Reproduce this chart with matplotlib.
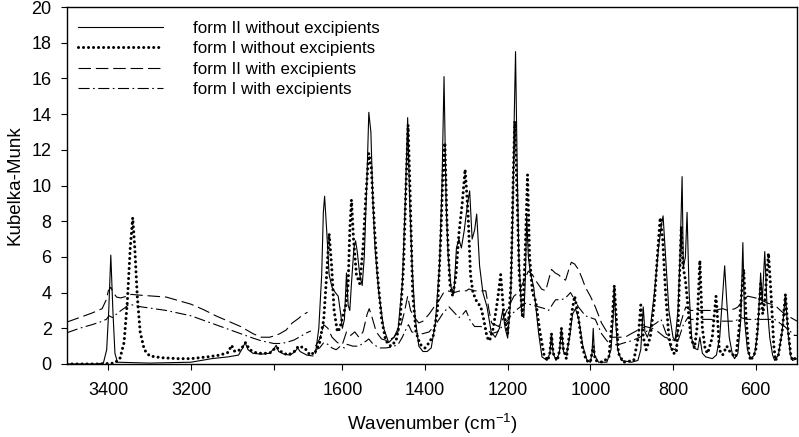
import numpy as np
import matplotlib
matplotlib.use("Agg")
import matplotlib.pyplot as plt

plt.rcParams.update({
    'font.family': ['Liberation Sans', 'DejaVu Sans'],
    'mathtext.default': 'regular',
    'lines.scale_dashes': False,
})

# wavenumber (cm-1) / Kubelka-Munk values
wn_f2 = [3500, 3430, 3412, 3404, 3399, 3394, 3389, 3384, 3378, 3300, 3200, 3150, 3110, 3085, 3075, 3069,
         3062, 3050, 3030, 3010, 2998, 2994, 2988, 2975, 2960, 2948, 2942, 2936, 2920, 2905,
         1665, 1657, 1650, 1646, 1643, 1638, 1632, 1625, 1617, 1610, 1604, 1600, 1595, 1590, 1586, 1582,
         1578, 1572, 1568, 1564, 1558, 1552, 1547, 1541, 1536, 1531, 1526, 1521, 1512, 1500, 1488, 1475,
         1465, 1455, 1448, 1442, 1437, 1431, 1424, 1415, 1405, 1395, 1385, 1375, 1365, 1359, 1354, 1349,
         1344, 1337, 1330, 1324, 1318, 1312, 1305, 1297, 1292, 1286, 1280, 1275, 1268, 1260, 1250, 1240,
         1230, 1220, 1212, 1206, 1200, 1193, 1188, 1184, 1181, 1177, 1173, 1166, 1161, 1157, 1154, 1150,
         1145, 1137, 1125, 1117, 1105, 1098, 1094, 1090, 1083, 1075, 1070, 1065, 1058, 1050, 1043, 1036,
         1028, 1018, 1008, 1000, 996, 993, 990, 980, 960, 950, 945, 942, 939, 934, 925, 900, 885, 878,
         872, 868, 862, 855, 845, 835, 828, 824, 818, 810, 800, 795, 788, 783, 778, 775, 770, 766, 761,
         755, 750, 740, 735, 729, 721, 705, 695, 687, 681, 675, 670, 664, 656, 651, 643, 636, 631, 627,
         620, 612, 603, 595, 588, 584, 578, 573, 566, 559, 554, 545, 536, 528, 522, 516, 511, 500]
km_f2 = [0, 0, 0.05, 0.8, 3.0, 6.1, 3.0, 0.6, 0.1, 0.05, 0.1, 0.3, 0.4, 0.5, 0.9, 1.2,
         0.8, 0.6, 0.55, 0.6, 0.9, 1.05, 0.7, 0.55, 0.5, 0.7, 0.9, 0.7, 0.5, 0.45,
         0.6, 2.0, 5.0, 8.5, 9.4, 7.5, 5.0, 4.3, 4.0, 3.8, 2.8, 2.0, 2.5, 5.1, 3.3, 3.0,
         4.5, 6.5, 6.9, 6.3, 5.0, 4.4, 6.0, 10.0, 14.1, 13.0, 9.0, 6.5, 4.0, 2.0, 1.2, 1.5,
         2.0, 4.5, 9.0, 13.8, 9.0, 5.4, 2.6, 1.0, 0.7, 0.7, 0.9, 2.3, 5.5, 10.0, 16.1, 9.0,
         6.0, 4.3, 4.0, 6.5, 7.0, 6.5, 7.5, 9.0, 9.7, 7.0, 7.5, 8.4, 5.5, 4.0, 3.2, 1.8,
         1.5, 2.0, 3.0, 2.0, 1.45, 3.5, 8.0, 14.0, 17.5, 11.0, 6.0, 2.8, 2.6, 5.0, 8.3, 6.0,
         5.1, 4.3, 1.7, 0.4, 0.2, 0.6, 1.7, 0.6, 0.2, 0.6, 2.0, 0.7, 0.5, 1.5, 2.8, 3.1,
         2.5, 1.0, 0.2, 0.1, 0.6, 2.0, 0.5, 0.1, 0.1, 0.8, 2.5, 4.4, 2.5, 0.8, 0.2, 0.1, 0.2, 0.8,
         3.2, 1.8, 1.5, 2.0, 4.0, 6.5, 7.8, 8.3, 6.0, 3.0, 1.5, 1.3, 3.0, 6.0, 10.5, 5.4, 6.0, 8.5, 4.0,
         1.5, 0.9, 0.8, 1.5, 0.6, 0.4, 0.3, 0.5, 1.5, 3.5, 5.5, 3.5, 1.5, 0.5, 0.3, 0.6, 2.5, 6.8, 2.5,
         0.8, 0.3, 0.5, 1.8, 5.1, 3.5, 6.3, 3.5, 1.5, 0.5, 0.2, 0.5, 1.8, 3.9, 1.8, 0.5, 0.2, 0.3]

wn_f1 = [3500, 3420, 3385, 3372, 3362, 3354, 3347, 3341, 3336, 3330, 3323, 3313, 3300, 3270, 3230, 3200,
         3160, 3130, 3110, 3102, 3094, 3080, 3068, 3058, 3040, 3010, 2993, 2980, 2965, 2950, 2940, 2925,
         2912, 2905,
         1665, 1655, 1645, 1638, 1632, 1626, 1620, 1612, 1606, 1598, 1592, 1586, 1582, 1578, 1573, 1566,
         1558, 1550, 1543, 1536, 1530, 1522, 1515, 1505, 1495, 1483, 1470, 1460, 1452, 1446, 1441, 1436,
         1430, 1422, 1412, 1400, 1390, 1380, 1370, 1362, 1357, 1352, 1347, 1340, 1333, 1325, 1318, 1310,
         1303, 1296, 1290, 1284, 1275, 1265, 1258, 1250, 1244, 1235, 1225, 1217, 1210, 1200, 1192, 1187,
         1183, 1178, 1172, 1164, 1158, 1152, 1147, 1140, 1132, 1122, 1112, 1103, 1098, 1094, 1090, 1080,
         1074, 1070, 1065, 1058, 1050, 1044, 1038, 1030, 1020, 1010, 1000, 993, 988, 970, 955, 947, 942,
         937, 932, 920, 895, 884, 878, 872, 865, 855, 845, 838, 831, 825, 818, 810, 800, 792, 788, 784,
         780, 776, 770, 765, 757, 748, 742, 735, 729, 722, 716, 705, 699, 696, 692, 688, 680, 670, 660,
         648, 640, 634, 629, 623, 616, 612, 600, 592, 588, 583, 578, 569, 563, 556, 552, 545, 535, 528,
         522, 515, 511, 500]
km_f1 = [0, 0, 0.05, 0.3, 1.2, 3.5, 6.5, 8.2, 6.5, 3.8, 1.8, 0.8, 0.45, 0.35, 0.3, 0.3,
         0.4, 0.5, 0.65, 1.05, 0.7, 0.8, 1.2, 0.8, 0.6, 0.6, 0.95, 0.65, 0.5, 0.7, 1.0, 0.9,
         0.5, 0.6,
         0.7, 1.2, 2.5, 5.0, 7.3, 5.5, 3.0, 1.8, 2.0, 2.8, 3.2, 4.5, 7.5, 9.2, 7.0, 5.0,
         4.5, 6.5, 9.5, 11.8, 11.0, 7.5, 5.0, 2.5, 1.3, 1.0, 1.3, 2.5, 5.5, 10.0, 13.4, 9.5,
         4.0, 1.8, 1.1, 0.9, 1.2, 1.6, 3.0, 7.0, 10.5, 12.4, 8.0, 4.5, 3.8, 5.0, 7.3, 9.0,
         10.9, 8.5, 5.0, 4.0, 3.5, 3.2, 2.5, 1.5, 1.3, 2.0, 3.5, 5.0, 3.0, 1.7, 4.5, 10.0,
         13.6, 10.0, 5.0, 2.6, 6.0, 10.6, 6.0, 4.0, 3.5, 1.8, 0.5, 0.2, 0.6, 1.7, 0.6, 0.2,
         0.8, 2.0, 0.8, 0.3, 1.8, 3.0, 3.8, 2.8, 1.0, 0.2, 0.1, 1.0, 0.2, 0.1, 0.4, 2.5, 4.4,
         2.5, 0.6, 0.1, 0.2, 1.5, 3.3, 1.5, 0.8, 1.5, 3.5, 6.0, 8.2, 7.0, 4.0, 1.5, 0.6, 0.6, 2.0, 5.0,
         7.7, 5.5, 4.7, 3.5, 1.5, 0.9, 2.0, 5.8, 2.0, 0.8, 0.6, 1.5, 3.0, 3.8, 2.5, 0.8, 0.5, 1.0, 0.6,
         0.4, 2.0, 4.0, 5.3, 2.5, 0.5, 0.2, 0.7, 3.0, 4.5, 2.8, 3.5, 6.2, 4.0, 1.0, 0.2, 0.5, 2.0, 3.9,
         2.0, 0.5, 0.2, 0.4]

wn_f2_exc = [3500, 3470, 3440, 3415, 3405, 3400, 3394, 3388, 3380, 3370, 3355, 3345, 3320, 3290, 3260,
             3230, 3200, 3170, 3140, 3110, 3080, 3050, 3030, 3010, 2995, 2985, 2970, 2955, 2940, 2930, 2918,
             1665, 1655, 1645, 1635, 1625, 1612, 1600, 1590, 1580, 1570, 1560, 1550, 1540, 1535, 1528,
             1518, 1505, 1490, 1475, 1460, 1450, 1442, 1435, 1425, 1415, 1405, 1390, 1375, 1365, 1355,
             1345, 1330, 1315, 1300, 1294, 1280, 1265, 1253, 1245, 1239, 1230, 1222, 1210, 1198, 1185,
             1174, 1162, 1150, 1140, 1130, 1118, 1108, 1100, 1094, 1085, 1077, 1068, 1060, 1052, 1046,
             1038, 1029, 1020, 1012, 1000, 988, 973, 960, 949, 935, 916, 901, 885, 867, 850, 836, 820,
             805, 795, 785, 775, 769, 757, 740, 720, 700, 680, 667, 650, 643, 630, 619, 600, 588, 570,
             554, 540, 530, 515, 500]
km_f2_exc = [2.35, 2.6, 2.85, 3.1, 3.6, 4.1, 4.3, 4.0, 3.75, 3.7, 3.8, 3.9, 3.85, 3.8, 3.75,
             3.55, 3.35, 3.05, 2.7, 2.4, 2.1, 1.7, 1.5, 1.5, 1.6, 1.7, 1.9, 2.3, 2.55, 2.75, 2.9,
             1.0, 1.4, 2.2, 2.0, 1.5, 1.2, 1.1, 1.8, 1.6, 1.8, 1.5, 1.8, 2.8, 3.1, 2.6,
             1.8, 1.4, 1.3, 1.5, 2.0, 2.9, 3.8, 3.0, 2.6, 2.3, 2.4, 2.8, 3.3, 3.6, 4.0,
             4.1, 4.0, 4.1, 4.1, 4.2, 4.1, 4.1, 4.1, 3.0, 2.3, 2.2, 2.1, 2.6, 3.2, 3.8,
             4.0, 4.6, 5.2, 5.0, 4.6, 4.2, 4.1, 4.8, 5.3, 5.1, 5.0, 4.8, 4.7, 5.3, 5.7,
             5.6, 5.3, 4.8, 4.3, 3.8, 3.2, 2.3, 1.8, 1.5, 1.5, 1.5, 1.7, 1.9, 2.1, 2.0, 1.8, 1.5,
             1.4, 1.3, 2.0, 2.8, 3.2, 3.0, 3.0, 3.0, 3.0, 3.1, 3.0, 3.1, 3.2, 3.6, 3.8, 3.7, 3.6, 3.4,
             3.3, 3.0, 2.8, 2.6, 2.4]

wn_f1_exc = [3500, 3470, 3440, 3420, 3405, 3398, 3390, 3375, 3360, 3350, 3340, 3320, 3290, 3260, 3230,
             3200, 3170, 3140, 3110, 3080, 3050, 3030, 3000, 2985, 2970, 2950, 2935, 2920, 2910,
             1665, 1655, 1645, 1635, 1625, 1615, 1605, 1595, 1588, 1575, 1560, 1548, 1536, 1525, 1510,
             1495, 1480, 1465, 1455, 1445, 1440, 1432, 1420, 1405, 1390, 1375, 1366, 1355, 1342, 1330,
             1318, 1308, 1301, 1290, 1280, 1265, 1253, 1239, 1225, 1210, 1198, 1190, 1175, 1157, 1140,
             1125, 1110, 1101, 1090, 1084, 1070, 1060, 1048, 1038, 1029, 1012, 1000, 988, 973, 960, 949,
             930, 916, 900, 880, 865, 853, 840, 829, 815, 805, 795, 785, 775, 764, 757, 740, 720, 709,
             690, 667, 650, 636, 620, 602, 580, 554, 530, 515, 506, 500]
km_f1_exc = [1.75, 2.0, 2.2, 2.35, 2.5, 2.7, 2.6, 2.9, 3.15, 3.35, 3.3, 3.2, 3.1, 3.0, 2.85,
             2.7, 2.45, 2.2, 1.95, 1.7, 1.45, 1.3, 1.15, 1.15, 1.2, 1.35, 1.55, 1.75, 1.85,
             0.8, 0.9, 1.2, 1.1, 0.9, 0.8, 1.0, 0.9, 1.1, 1.0, 1.0, 1.2, 1.4, 1.1, 0.9,
             0.9, 0.95, 1.1, 1.5, 2.0, 2.2, 1.8, 1.7, 1.7, 1.8, 2.2, 2.5, 2.9, 3.2, 2.9,
             2.6, 2.8, 3.0, 2.4, 2.1, 2.1, 2.0, 1.7, 1.8, 2.2, 2.5, 2.8, 3.1, 3.4, 3.3,
             3.2, 3.1, 3.0, 3.4, 3.6, 3.6, 3.7, 4.0, 3.6, 3.2, 2.7, 2.6, 2.5, 1.7, 1.3, 1.05,
             1.1, 1.2, 1.3, 1.5, 1.8, 2.1, 2.3, 2.5, 1.6, 0.9, 0.8, 1.5, 2.2, 2.6, 2.5, 2.5, 2.5, 2.5,
             2.4, 2.4, 2.4, 2.6, 2.5, 2.5, 2.5, 2.5, 2.1, 1.8, 1.6, 1.6]

series_labels = ['form II without excipients', 'form I without excipients',
                 'form II with excipients', 'form I with excipients']
x_ticks = [3400, 3200, 3000, 1600, 1400, 1200, 1000, 800, 600]
x_tick_labels = ['3400', '3200', '', '1600', '1400', '1200', '1000', '800', '600']
y_ticks = list(range(0, 21, 2))

# broken wavenumber axis: 3500-2900 then 1665-500
GAP_HI, GAP_LO = 2900.0, 1665.0
SHIFT = GAP_HI - GAP_LO
EPS = 1e-3


def fwd(w):
    w = np.asarray(w, dtype=float)
    return np.where(w >= GAP_HI, w - SHIFT + SHIFT * EPS,
                    np.where(w <= GAP_LO, w, GAP_LO + (w - GAP_LO) * EPS))


def inv(u):
    u = np.asarray(u, dtype=float)
    top = GAP_LO + SHIFT * EPS
    return np.where(u >= top, u + SHIFT - SHIFT * EPS,
                    np.where(u <= GAP_LO, u, GAP_LO + (u - GAP_LO) / EPS))


def with_break(wn, km):
    wn = np.asarray(wn, dtype=float)
    km = np.asarray(km, dtype=float)
    i = np.argmax(wn < 2000)
    return np.insert(wn, i, np.nan), np.insert(km, i, np.nan)


fig = plt.figure(figsize=(7.99, 4.37), dpi=100)
ax = fig.add_axes([67 / 799, 1 - 364 / 437, 730 / 799, 357 / 437])
ax.set_xscale('function', functions=(fwd, inv))

styles = [
    dict(color='black', lw=0.8, linestyle='-'),
    dict(color='black', lw=2.2, linestyle=(0, (0.01, 3.6)), dash_capstyle='round'),
    dict(color='black', lw=0.8, linestyle=(0, (9, 3.5))),
    dict(color='black', lw=0.8, linestyle=(0, (8, 2.5, 1.2, 2.5))),
]
data = [(wn_f2, km_f2), (wn_f1, km_f1), (wn_f2_exc, km_f2_exc), (wn_f1_exc, km_f1_exc)]
for (wn, km), lab, st in zip(data, series_labels, styles):
    x, y = with_break(wn, km)
    ax.plot(x, y, label=lab, **st)

ax.set_xlim(3500, 500)
ax.set_ylim(0, 20)
ax.set_xticks(x_ticks)
ax.set_xticklabels(x_tick_labels)
ax.set_yticks(y_ticks)
ax.xaxis.set_minor_locator(matplotlib.ticker.NullLocator())
ax.tick_params(direction='out', length=4, width=0.8, labelsize=13)
ax.tick_params(axis='x', pad=9)
ax.tick_params(axis='y', pad=7)
for s in ax.spines.values():
    s.set_linewidth(1.0)

ax.set_xlabel('Wavenumber (cm$^{-1}$)', fontsize=13.5, labelpad=9)
ax.set_ylabel('Kubelka-Munk', fontsize=13.5, labelpad=6)

ax.legend(loc='upper left', bbox_to_anchor=(0.015, 0.962), frameon=False,
          fontsize=12.2, handlelength=5.0, handletextpad=1.77, labelspacing=0.33,
          borderpad=0, borderaxespad=0)

fig.savefig('out.png', dpi=100)
